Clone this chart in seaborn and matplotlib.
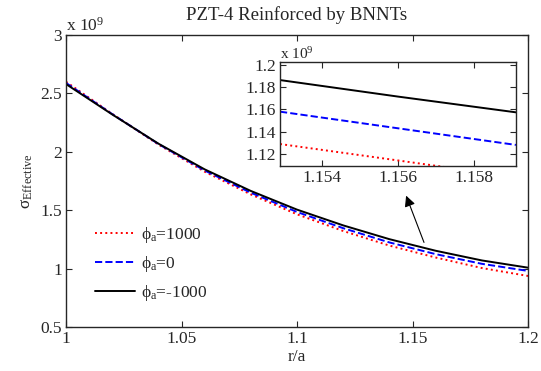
import matplotlib
matplotlib.use("Agg")
import numpy as np
import pandas as pd
import matplotlib.pyplot as plt
import seaborn as sns

# r/a positions and effective stress (x 1e9) for the three phi_a cases
r_over_a = [1.00, 1.02, 1.04, 1.06, 1.08, 1.10, 1.12, 1.14, 1.16, 1.18, 1.20]
sigma_pos = [2.60, 2.325, 2.062, 1.83, 1.635, 1.465, 1.322, 1.197, 1.095, 1.005, 0.937]
sigma_zero = [2.59, 2.323, 2.067, 1.84, 1.65, 1.485, 1.346, 1.224, 1.124, 1.041, 0.980]
sigma_neg = [2.58, 2.32, 2.07, 1.85, 1.665, 1.505, 1.37, 1.252, 1.153, 1.07, 1.008]

# zoomed window
inset_x = [1.1529, 1.1560, 1.1591]
inset_pos = [1.1288, 1.1140, 1.0990]
inset_zero = [1.158, 1.143, 1.128]
inset_neg = [1.1865, 1.1716, 1.1574]

labels = ["$\\phi_{\\rm a}$=1000", "$\\phi_{\\rm a}$=0", "$\\phi_{\\rm a}$=-1000"]

sns.set_style("ticks")
plt.rcParams["font.family"] = ["Liberation Serif", "DejaVu Serif"]
plt.rcParams["mathtext.fontset"] = "custom"
plt.rcParams["mathtext.rm"] = "Liberation Serif"
plt.rcParams["mathtext.it"] = "Liberation Serif"
plt.rcParams["xtick.direction"] = "in"
plt.rcParams["ytick.direction"] = "in"

FS = 12.5

main = pd.DataFrame({"r": r_over_a, "pos": sigma_pos, "zero": sigma_zero, "neg": sigma_neg})
zoom = pd.DataFrame({"r": inset_x, "pos": inset_pos, "zero": inset_zero, "neg": inset_neg})

styles = [("pos", "red", ":"), ("zero", "blue", "--"), ("neg", "black", "-")]

fig = plt.figure(figsize=(5.41, 3.71), dpi=100)
ax = fig.add_axes([0.122, 0.1186, 0.854, 0.787])

for (col, color, ls), lab in zip(styles, labels):
    sns.lineplot(data=main, x="r", y=col, ax=ax, color=color, linestyle=ls,
                 linewidth=1.4, label=lab)

ax.set_xlim(1, 1.2)
ax.set_ylim(0.5, 3)
ax.set_xticks([1, 1.05, 1.1, 1.15, 1.2])
ax.set_xticklabels(["1", "1.05", "1.1", "1.15", "1.2"])
ax.set_yticks([0.5, 1, 1.5, 2, 2.5, 3])
ax.set_yticklabels(["0.5", "1", "1.5", "2", "2.5", "3"])
ax.tick_params(labelsize=FS, top=True, right=True, length=4, width=0.8, pad=3)
for s in ax.spines.values():
    s.set_linewidth(1.0)
ax.set_xlabel("r/a", fontsize=FS, labelpad=1)
ax.set_ylabel("σ$_{\\rm Effective}$", fontsize=FS, labelpad=4)
ax.set_title("PZT-4 Reinforced by BNNTs", fontsize=13.5, pad=11)
ax.text(0.0, 1.0, "x 10$^{9}$", transform=ax.transAxes, fontsize=FS,
        ha="left", va="bottom")

ax.legend(loc="lower left", bbox_to_anchor=(0.03, 0.03), frameon=False,
          fontsize=FS, handlelength=2.3, labelspacing=0.5, handletextpad=0.3)

ax.annotate("", xy=(1.1468, 1.647), xytext=(1.1554, 1.202),
            arrowprops=dict(arrowstyle="-|>", color="black", lw=0.8,
                            mutation_scale=16))

ins = fig.add_axes([0.5176, 0.5526, 0.436, 0.280])
for col, color, ls in styles:
    sns.lineplot(data=zoom, x="r", y=col, ax=ins, color=color, linestyle=ls,
                 linewidth=1.4, legend=False)
ins.set_xlim(1.1529, 1.1591)
ins.set_ylim(1.109, 1.2027)
ins.set_xticks([1.154, 1.156, 1.158])
ins.set_xticklabels(["1.154", "1.156", "1.158"])
ins.set_yticks([1.12, 1.14, 1.16, 1.18, 1.2])
ins.set_yticklabels(["1.12", "1.14", "1.16", "1.18", "1.2"])
ins.tick_params(labelsize=FS, top=True, right=True, length=4, width=0.8, pad=3)
ins.set_xlabel("")
ins.set_ylabel("")
for s in ins.spines.values():
    s.set_linewidth(1.0)
ins.text(0.0, 1.0, "x 10$^{9}$", transform=ins.transAxes, fontsize=11,
         ha="left", va="bottom")

fig.savefig("out.png", dpi=100)
